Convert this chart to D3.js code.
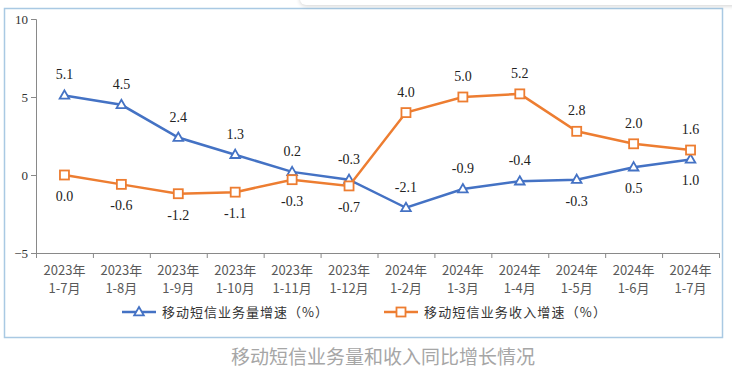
<!DOCTYPE html>
<html>
<head>
<meta charset="utf-8">
<script src="https://cdn.jsdelivr.net/npm/d3@7"></script>
<style>
  body { margin: 0; background: #fff; }
  #popup { position: absolute; left: 300px; top: -30px; width: 460px; height: 35px;
    background: #fff; border-radius: 6px; box-shadow: 0 1px 4px rgba(0,0,0,0.18); }
</style>
</head>
<body>
<div id="popup"></div>
<svg id="chart" width="732" height="374"></svg>
<script>
let width = 732,
  height = 374;

// Data
const periods = ["2023年|1-7月", "2023年|1-8月", "2023年|1-9月", "2023年|1-10月", "2023年|1-11月", "2023年|1-12月",
  "2024年|1-2月", "2024年|1-3月", "2024年|1-4月", "2024年|1-5月", "2024年|1-6月", "2024年|1-7月"];
const volumeGrowth = [5.1, 4.5, 2.4, 1.3, 0.2, -0.3, -2.1, -0.9, -0.4, -0.3, 0.5, 1.0];
const revenueGrowth = [0.0, -0.6, -1.2, -1.1, -0.3, -0.7, 4.0, 5.0, 5.2, 2.8, 2.0, 1.6];
// label above (1) or below (-1)
const volumeLabelPos = [1, 1, 1, 1, 1, 1, 1, 1, 1, -1, -1, -1];
const revenueLabelPos = [-1, -1, -1, -1, -1, -1, 1, 1, 1, 1, 1, 1];
const yTicks = [-5, 0, 5, 10];

let svg = d3.select("#chart");

// outer frame
svg.append("rect")
  .attr("x", 4.5).attr("y", 8.5)
  .attr("width", 718).attr("height", 329)
  .attr("fill", "none")
  .attr("stroke", "#a9c9e3")
  .attr("stroke-width", 1.5);

let x = d3.scaleBand().domain(periods).range([36, 719]);
let y = d3.scaleLinear().domain([-5, 10]).range([253, 19]);

// Y axis
let yAxis = svg.append("g")
  .attr("transform", "translate(36,0)")
  .call(d3.axisLeft(y).tickValues(yTicks).tickSize(5).tickPadding(3));
yAxis.selectAll("text")
  .attr("font-family", "Liberation Serif")
  .attr("font-size", 13)
  .attr("fill", "#333");

// X axis
let xAxis = svg.append("g")
  .attr("transform", "translate(0,253)")
  .call(d3.axisBottom(x).tickSize(0).tickFormat(""));
xAxis.selectAll(".tick").remove();
// boundary ticks
xAxis.selectAll("line.bt")
  .data(d3.range(periods.length + 1))
  .enter()
  .append("line")
  .attr("class", "bt")
  .attr("x1", (i) => (i < periods.length ? x(periods[i]) : x.range()[1]) + 0.5)
  .attr("x2", (i) => (i < periods.length ? x(periods[i]) : x.range()[1]) + 0.5)
  .attr("y1", 0).attr("y2", 5)
  .attr("stroke", "#898989");

svg.selectAll(".domain").attr("stroke", "#898989");
svg.selectAll(".tick line").attr("stroke", "#898989");

// category labels
let catLabels = svg.append("g").selectAll("text")
  .data(periods)
  .enter()
  .append("text")
  .attr("x", (d) => x(d) + x.bandwidth() / 2)
  .attr("text-anchor", "middle")
  .attr("font-family", "Noto Sans CJK SC")
  .attr("font-size", 13)
  .attr("fill", "#595959");
catLabels.append("tspan")
  .attr("x", (d) => x(d) + x.bandwidth() / 2)
  .attr("y", 275)
  .text((d) => d.split("|")[0]);
catLabels.append("tspan")
  .attr("x", (d) => x(d) + x.bandwidth() / 2)
  .attr("y", 293)
  .text((d) => d.split("|")[1]);

let cx = (i) => x(periods[i]) + x.bandwidth() / 2;

let line = d3.line()
  .x((d, i) => cx(i))
  .y((d) => y(d));

const series = [
  { values: volumeGrowth, pos: volumeLabelPos, color: "#4472c4", marker: "tri" },
  { values: revenueGrowth, pos: revenueLabelPos, color: "#ed7d31", marker: "sq" },
];

let triPath = d3.symbol().type(d3.symbolTriangle).size(40);

series.forEach((s) => {
  svg.append("path")
    .attr("d", line(s.values))
    .attr("fill", "none")
    .attr("stroke", s.color)
    .attr("stroke-width", 2.5);

  let m = svg.append("g").selectAll("path")
    .data(s.values)
    .enter();
  if (s.marker === "tri") {
    m.append("path")
      .attr("d", triPath)
      .attr("transform", (d, i) => "translate(" + cx(i) + "," + (y(d) + 0.5) + ")")
      .attr("fill", "#fff")
      .attr("stroke", s.color)
      .attr("stroke-width", 1.8);
  } else {
    m.append("rect")
      .attr("x", (d, i) => cx(i) - 4.5)
      .attr("y", (d) => y(d) - 4.5)
      .attr("width", 9).attr("height", 9)
      .attr("fill", "#fff")
      .attr("stroke", s.color)
      .attr("stroke-width", 1.8);
  }

  svg.append("g").selectAll("text")
    .data(s.values)
    .enter()
    .append("text")
    .attr("x", (d, i) => cx(i))
    .attr("y", (d, i) => y(d) - s.pos[i] * 21 + 5)
    .attr("text-anchor", "middle")
    .attr("font-family", "Liberation Serif")
    .attr("font-size", 14)
    .attr("fill", "#222")
    .text((d) => d.toFixed(1));
});

// Legend
const legendItems = [
  { label: "移动短信业务量增速（%）", color: "#4472c4", marker: "tri", x: 122, len: 166 },
  { label: "移动短信业务收入增速（%）", color: "#ed7d31", marker: "sq", x: 384, len: 182 },
];
legendItems.forEach((l) => {
  let g = svg.append("g").attr("transform", "translate(" + l.x + ",312)");
  g.append("line")
    .attr("x1", 0).attr("x2", 34)
    .attr("stroke", l.color)
    .attr("stroke-width", 2.5);
  if (l.marker === "tri") {
    g.append("path")
      .attr("d", triPath)
      .attr("transform", "translate(17,0.5)")
      .attr("fill", "#fff")
      .attr("stroke", l.color)
      .attr("stroke-width", 1.8);
  } else {
    g.append("rect")
      .attr("x", 12.5).attr("y", -4.5)
      .attr("width", 9).attr("height", 9)
      .attr("fill", "#fff")
      .attr("stroke", l.color)
      .attr("stroke-width", 1.8);
  }
  g.append("text")
    .attr("x", 40).attr("y", 4.5)
    .attr("font-family", "Noto Sans CJK SC")
    .attr("font-size", 13)
    .attr("fill", "#333")
    .attr("textLength", l.len)
    .attr("lengthAdjust", "spacing")
    .text(l.label);
});

// Caption
svg.append("text")
  .attr("x", 383).attr("y", 364)
  .attr("text-anchor", "middle")
  .attr("font-family", "Noto Sans CJK SC")
  .attr("font-size", 19)
  .attr("fill", "#a6a6a6")
  .text("移动短信业务量和收入同比增长情况");
</script>
</body>
</html>
